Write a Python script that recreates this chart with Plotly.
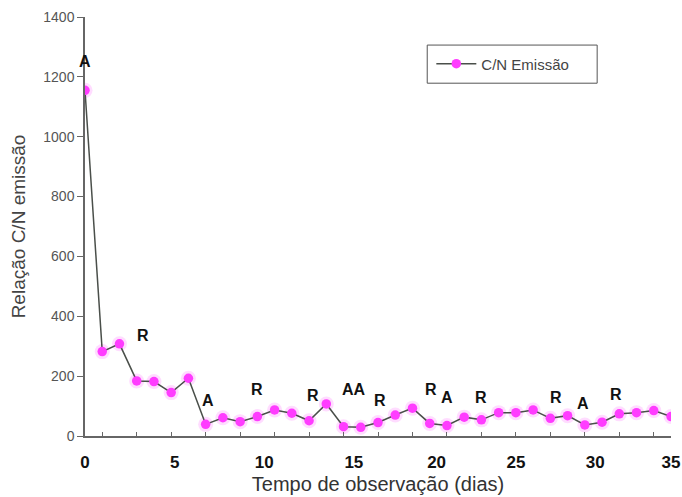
import plotly.graph_objects as go

# Observation days and C/N emission ratio
days = list(range(35))
cn_emissao = [1155, 282, 308, 184, 182, 145, 193, 39, 61, 48, 65, 87, 76, 51, 107,
              31, 29, 45, 70, 93, 42, 35, 63, 54, 78, 78, 87, 59, 68, 37, 46, 74,
              78, 85, 65]

# Event labels (A / R) placed above the curve
event_text = ["A", "R", "A", "R", "R", "AA", "R", "R", "A", "R", "R", "A", "R"]
event_x = [0, 3.36, 7.13, 10.0, 13.2, 15.6, 17.1, 20.1, 21.0, 23.0, 27.3, 28.9, 30.8]
event_y = [1250, 337, 120, 157, 137, 155, 120, 157, 130, 130, 130, 110, 140]

# Axis tick labels
x_tick_text = ["0", "5", "10", "15", "20", "25", "30", "35"]
x_tick_pos = [0, 5.2, 10.4, 15.6, 20.4, 25.0, 29.6, 34.0]
y_ticks = [0, 200, 400, 600, 800, 1000, 1200, 1400]

FONT = "Liberation Sans, Arial"

fig = go.Figure()

# soft halo behind the markers
fig.add_trace(go.Scatter(
    x=days, y=cn_emissao, mode="markers", showlegend=False, hoverinfo="skip",
    marker=dict(size=15, color="rgba(255,60,255,0.18)", line=dict(width=0)),
))

fig.add_trace(go.Scatter(
    x=days, y=cn_emissao, mode="lines+markers", name="C/N Emissão",
    line=dict(color="#4a4f4a", width=1.5),
    marker=dict(size=9.5, color="#ff3cff", line=dict(width=0)),
))

for t, x, y in zip(event_text, event_x, event_y):
    fig.add_annotation(x=x, y=y, text=f"<b>{t}</b>", showarrow=False,
                       font=dict(family=FONT, size=16, color="#111"))

# legend frame
fig.add_shape(type="rect", xref="paper", yref="paper",
              x0=0.584, x1=0.874, y0=0.842, y1=0.933,
              line=dict(color="#555", width=1), fillcolor="rgba(0,0,0,0)")

fig.update_layout(
    width=682, height=497,
    margin=dict(l=85, r=11, t=17, b=61),
    paper_bgcolor="white", plot_bgcolor="white",
    font=dict(family=FONT, color="#333"),
    legend=dict(
        x=0.591, y=0.888, xanchor="left", yanchor="middle",
        borderwidth=0, bgcolor="rgba(0,0,0,0)",
        font=dict(size=15, color="#444"),
        itemwidth=40,
    ),
    xaxis=dict(
        range=[0, 34], showgrid=False, zeroline=False, automargin=False,
        showline=True, linecolor="#666", linewidth=1.5,
        tickmode="array", tickvals=x_tick_pos,
        ticktext=[f"<b>{t}</b>" for t in x_tick_text],
        ticks="", ticklabelstandoff=10,
        tickfont=dict(size=17, color="#111", family=FONT),
        title=dict(text="Tempo de observação (dias)", font=dict(size=20, color="#333"),
                   standoff=6),
        minor=dict(ticks="inside", ticklen=4, tickcolor="#666", tick0=1, dtick=2),
    ),
    yaxis=dict(
        range=[0, 1400], showgrid=False, zeroline=False, automargin=False,
        showline=True, linecolor="#666", linewidth=1.5,
        tickmode="array", tickvals=y_ticks,
        ticks="outside", ticklen=6, tickcolor="#666",
        tickfont=dict(size=14, color="#555"),
        title=dict(text="Relação C/N emissão", font=dict(size=19, color="#444"),
                   standoff=13),
    ),
)

fig.write_html("out.html")
